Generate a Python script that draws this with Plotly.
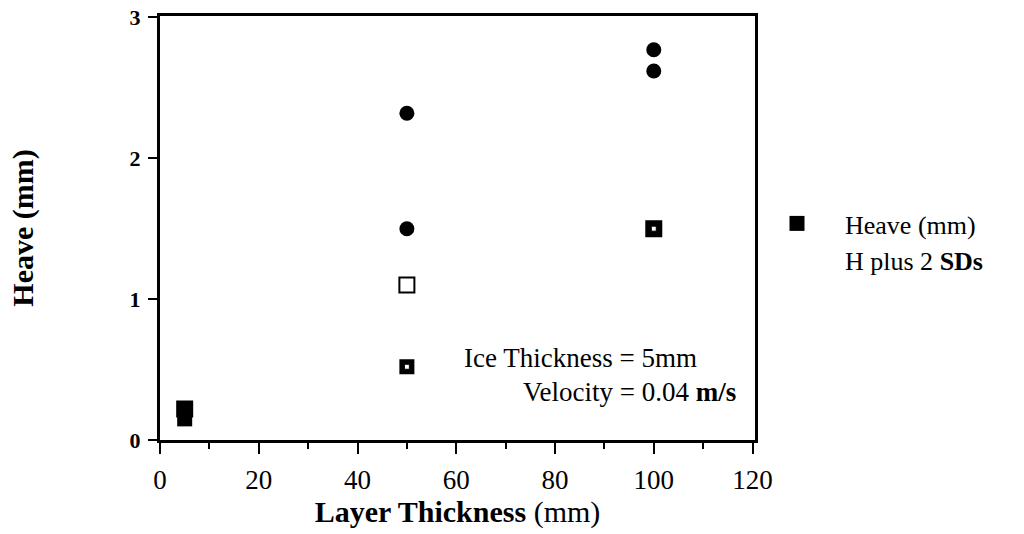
import plotly.graph_objects as go

# Data
heave_x = [5, 50, 100]
heave_y = [0.15, 0.52, 1.50]
h2sd_x = [5, 50, 100]
h2sd_y = [0.22, 1.10, 1.50]
circ_x = [50, 50, 100, 100]
circ_y = [2.32, 1.50, 2.77, 2.62]

x_ticks = [0, 20, 40, 60, 80, 100, 120]
y_ticks = [0, 1, 2, 3]

FONT = "Liberation Serif, Times New Roman, serif"

# styles (the overlapping points at x=5 print as a solid block)
h2sd_fill = ["black", "white", "white"]
heave_dot = ["black", "white", "white"]

fig = go.Figure()

fig.add_trace(go.Scatter(
    x=circ_x, y=circ_y, mode="markers", showlegend=False,
    marker=dict(symbol="circle", size=15, color="black"), hoverinfo="skip"))

fig.add_trace(go.Scatter(
    x=h2sd_x, y=h2sd_y, mode="markers", showlegend=False,
    marker=dict(symbol="square", size=15, color=h2sd_fill,
                line=dict(color="black", width=2))))

fig.add_trace(go.Scatter(
    x=heave_x, y=heave_y, mode="markers", name="Heave (mm)",
    marker=dict(symbol="square", size=15, color="black",
                line=dict(color="black", width=0))))

fig.add_trace(go.Scatter(
    x=heave_x, y=heave_y, mode="markers", showlegend=False,
    marker=dict(symbol="square", size=5, color=heave_dot,
                line=dict(color="black", width=1)), hoverinfo="skip"))

# legend entry without visible symbol
fig.add_trace(go.Scatter(
    x=[None], y=[None], mode="markers", name="H plus 2 <b>SDs</b>",
    marker=dict(symbol="square", size=13, color="rgba(0,0,0,0)")))

L, R, T, B = 160, 269, 16, 94
W, H = 1024, 534
pw, ph = W - L - R, H - T - B

def px(x):
    return (x - L) / pw

def py(y):
    return (H - B - y) / ph

fig.add_annotation(x=px(699), y=py(358), xref="paper", yref="paper", text="Ice Thickness = 5mm",
                   showarrow=False, xanchor="right", yanchor="middle",
                   font=dict(family=FONT, size=27, color="black"))
fig.add_annotation(x=px(738), y=py(392), xref="paper", yref="paper", text="Velocity = 0.04 <b>m/s</b>",
                   showarrow=False, xanchor="right", yanchor="middle",
                   font=dict(family=FONT, size=27, color="black"))

fig.update_layout(
    width=W, height=H,
    margin=dict(l=L, r=R, t=T, b=B, autoexpand=False),
    paper_bgcolor="white", plot_bgcolor="white",
    font=dict(family=FONT, size=26, color="black"),
    legend=dict(x=px(749), y=py(200), xanchor="left", yanchor="top",
                font=dict(family=FONT, size=26, color="black"),
                bgcolor="rgba(0,0,0,0)", itemsizing="trace", itemwidth=86, tracegroupgap=0),
    xaxis=dict(range=[0, 120.5], tickvals=x_ticks, ticktext=[str(v) for v in x_ticks],
               showline=True, linecolor="black", linewidth=3, mirror=True,
               ticks="outside", ticklen=11, tickwidth=2, tickcolor="black",
               minor=dict(dtick=10, ticks="outside", ticklen=6, tickwidth=2, tickcolor="black"),
               showgrid=False, zeroline=False, ticklabelstandoff=3, automargin=False,
               tickfont=dict(family=FONT, size=27),
               title=dict(text="<b>Layer Thickness</b> (mm)", font=dict(family=FONT, size=30), standoff=0)),
    yaxis=dict(range=[0, 3.01], tickvals=y_ticks, ticktext=["<b>%d</b>" % v for v in y_ticks],
               showline=True, linecolor="black", linewidth=3, mirror=True,
               ticks="outside", ticklen=9, tickwidth=2, tickcolor="black",
               showgrid=False, zeroline=False, ticklabelstandoff=3, automargin=False,
               tickfont=dict(family=FONT, size=22),
               title=dict(text="<b>Heave (mm)</b>", font=dict(family=FONT, size=30), standoff=88)),
)

fig.write_html("out.html")
